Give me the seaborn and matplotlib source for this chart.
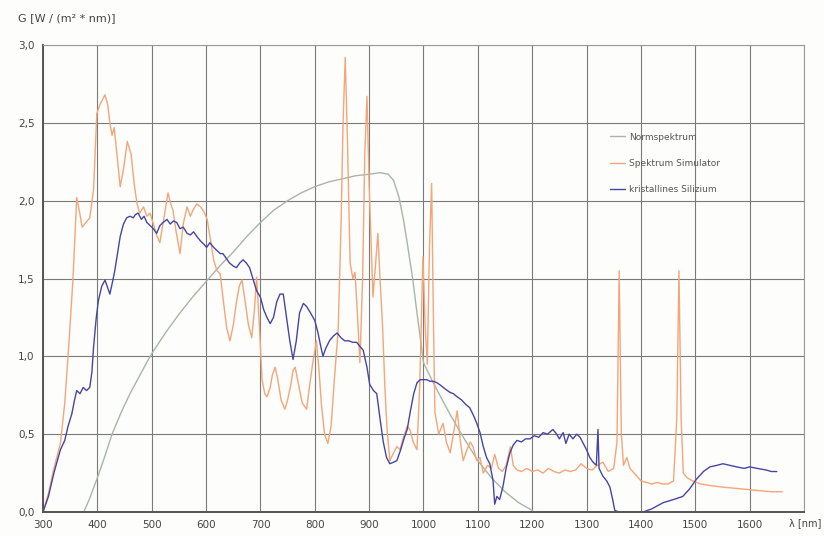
import numpy as np
import pandas as pd
import matplotlib
matplotlib.use("Agg")
import matplotlib.pyplot as plt
import seaborn as sns
from matplotlib.ticker import FuncFormatter

# ---------------- data ----------------
norm_wl = [375, 385, 400, 413, 427, 445, 460, 480, 497, 525, 550, 575, 600, 625, 650,
           675, 700, 725, 750, 775, 800, 825, 850, 875, 900, 920, 935, 945, 955, 963,
           970, 980, 988, 1000, 1015, 1030, 1050, 1075, 1100, 1125, 1150, 1175, 1200]
norm_g = [0.0, 0.08, 0.22, 0.35, 0.5, 0.65, 0.76, 0.89, 1.0, 1.15, 1.27, 1.38, 1.48, 1.58, 1.67,
          1.77, 1.86, 1.94, 2.0, 2.05, 2.09, 2.12, 2.14, 2.16, 2.17, 2.18, 2.17, 2.13, 2.02, 1.88,
          1.73, 1.5, 1.28, 0.96, 0.85, 0.75, 0.62, 0.47, 0.33, 0.22, 0.13, 0.06, 0.01]

sim_wl = [300, 310, 320, 332, 340, 348, 355, 362, 366, 372, 379, 386, 393, 399, 405, 414, 419,
          423, 427, 431, 436, 442, 448, 455, 462, 468, 473, 478, 485, 491, 497, 503, 509, 515,
          522, 530, 535, 539, 545, 552, 558, 565, 571, 576, 583, 590, 596, 602, 608, 614, 620,
          626, 632, 638, 644, 650, 656, 661, 666, 672, 678, 684, 689, 693, 698, 703, 708, 712,
          718, 722, 727, 732, 738, 745, 750, 756, 760, 764, 770, 777, 785, 790, 796, 803, 808,
          812, 818, 824, 830, 836, 843, 848, 852, 856, 860, 865, 870, 874, 878, 883, 888, 892,
          896, 900, 904, 907, 912, 916, 920, 925, 929, 933, 938, 945, 951, 957, 963, 970, 975,
          981, 988, 993, 999, 1003, 1007, 1011, 1015, 1018, 1021, 1028, 1036, 1042, 1049, 1055,
          1062, 1068, 1073, 1080, 1086, 1091, 1098, 1104, 1110, 1118, 1125, 1131, 1138, 1145,
          1152, 1160, 1165, 1172, 1180, 1190, 1200, 1210, 1220, 1230, 1240, 1250, 1260, 1270,
          1280, 1290, 1300, 1310, 1320, 1330, 1340, 1350, 1356, 1360, 1364, 1368, 1374, 1380,
          1390, 1400, 1410, 1420, 1430, 1440, 1450, 1460, 1466, 1470, 1474, 1478, 1485, 1495,
          1510, 1527, 1550, 1580, 1610, 1640, 1660]
sim_g = [0.0, 0.12, 0.28, 0.44, 0.7, 1.1, 1.49, 2.02, 1.95, 1.83, 1.86, 1.89, 2.07, 2.56, 2.62,
         2.68, 2.62, 2.5, 2.42, 2.47, 2.3, 2.09, 2.2, 2.38, 2.3, 2.1, 1.98, 1.92, 1.96, 1.9, 1.92,
         1.85, 1.78, 1.73, 1.88, 2.05, 1.98, 1.94, 1.8, 1.66, 1.85, 1.96, 1.9, 1.94, 1.98, 1.96,
         1.93, 1.88, 1.75, 1.62, 1.55, 1.53, 1.35, 1.18, 1.1, 1.2, 1.35, 1.45, 1.49, 1.35, 1.2,
         1.12, 1.3, 1.51, 1.2, 0.85, 0.76, 0.74, 0.8, 0.88, 0.93, 0.85, 0.72, 0.66, 0.72, 0.82,
         0.91, 0.93, 0.82, 0.7, 0.66, 0.8, 0.95, 1.1, 0.9, 0.7, 0.5, 0.44, 0.55, 0.85, 1.17, 1.8,
         2.5, 2.92, 2.4, 1.6, 1.5, 1.54, 1.3, 0.96, 1.5, 2.3, 2.67, 2.1, 1.7, 1.38, 1.6, 1.79,
         1.5, 1.17, 0.8, 0.53, 0.33, 0.38, 0.42, 0.4, 0.48, 0.55, 0.53, 0.45, 0.4, 0.8, 1.64,
         1.2, 0.95, 1.7, 2.11, 1.3, 0.64, 0.5, 0.57, 0.45, 0.38, 0.5, 0.65, 0.45, 0.33, 0.4,
         0.45, 0.42, 0.33, 0.35, 0.25, 0.3, 0.28, 0.37, 0.28, 0.26, 0.3, 0.42, 0.3, 0.27, 0.26,
         0.28, 0.26, 0.27, 0.25, 0.28, 0.26, 0.25, 0.27, 0.26, 0.27, 0.31, 0.28, 0.27, 0.3, 0.32,
         0.26, 0.28, 0.45, 1.55, 0.5, 0.3, 0.35, 0.28, 0.24, 0.2, 0.19, 0.18, 0.19, 0.18, 0.18,
         0.2, 0.6, 1.55, 0.6, 0.25, 0.22, 0.2, 0.18, 0.17, 0.16, 0.15, 0.14, 0.13, 0.13]

si_wl = [300, 310, 320, 332, 340, 346, 353, 358, 362, 368, 374, 380, 386, 390, 393, 398, 402,
         408, 414, 419, 423, 428, 432, 437, 442, 448, 454, 460, 466, 470, 475, 481, 486, 491,
         497, 503, 509, 515, 521, 528, 534, 540, 546, 552, 558, 565, 571, 577, 583, 590, 596,
         601, 607, 614, 620, 626, 631, 637, 643, 650, 656, 662, 668, 674, 680, 686, 693, 700,
         706, 712, 718, 724, 730, 736, 742, 748, 754, 760, 766, 772, 779, 785, 792, 800, 806,
         810, 815, 820, 827, 834, 841, 848, 855, 862, 870, 877, 884, 889, 896, 901, 908, 914,
         920, 926, 932, 938, 945, 951, 958, 964, 970, 976, 982, 988, 994, 999, 1006, 1012, 1018,
         1025, 1033, 1040, 1048, 1055, 1062, 1070, 1078, 1085, 1092, 1098, 1104, 1110, 1116,
         1122, 1128, 1131, 1135, 1140, 1146, 1152, 1159, 1165, 1172, 1180, 1188, 1196, 1204,
         1212, 1220, 1228, 1238, 1245, 1250, 1257, 1262, 1268, 1275, 1282, 1288, 1294, 1300,
         1306, 1312, 1318, 1321, 1323, 1330, 1337, 1343, 1348, 1352, 1360, 1380, 1404, 1420,
         1441, 1460, 1477, 1490, 1502, 1515, 1527, 1540, 1551, 1563, 1576, 1590, 1600, 1614,
         1630, 1640, 1650]
si_g = [0.0, 0.1, 0.25, 0.4, 0.46, 0.55, 0.63, 0.72, 0.78, 0.76, 0.8, 0.78, 0.8, 0.9, 1.06,
        1.25, 1.36, 1.45, 1.49, 1.44, 1.4, 1.48, 1.55, 1.66, 1.77, 1.85, 1.89, 1.9, 1.89, 1.91,
        1.92, 1.88, 1.9, 1.86, 1.84, 1.82, 1.79, 1.84, 1.86, 1.88, 1.85, 1.87, 1.86, 1.82, 1.83,
        1.79, 1.78, 1.8, 1.77, 1.74, 1.72, 1.7, 1.73, 1.7, 1.68, 1.66, 1.66, 1.63, 1.6, 1.58,
        1.57, 1.6, 1.62, 1.6, 1.57, 1.5, 1.42, 1.38, 1.3, 1.25, 1.21, 1.25, 1.35, 1.4, 1.4, 1.25,
        1.1, 0.98, 1.1, 1.28, 1.34, 1.32, 1.28, 1.23, 1.15, 1.08, 1.0, 1.05, 1.1, 1.13, 1.15,
        1.12, 1.1, 1.1, 1.09, 1.09, 1.06, 1.04, 0.93, 0.82, 0.78, 0.76, 0.6, 0.45, 0.35, 0.31,
        0.32, 0.33, 0.4, 0.47, 0.53, 0.65, 0.76, 0.83, 0.85, 0.85, 0.85, 0.84, 0.84, 0.83, 0.81,
        0.79, 0.77, 0.76, 0.74, 0.72, 0.69, 0.67, 0.62, 0.57, 0.51, 0.42, 0.35, 0.31, 0.2, 0.05,
        0.1, 0.08, 0.16, 0.28, 0.38, 0.43, 0.46, 0.45, 0.47, 0.47, 0.49, 0.48, 0.51, 0.5, 0.53,
        0.5, 0.47, 0.51, 0.44, 0.5, 0.47, 0.5, 0.48, 0.44, 0.4, 0.35, 0.32, 0.3, 0.53, 0.28,
        0.23, 0.2, 0.16, 0.08, 0.01, 0.0, 0.0, 0.0, 0.02, 0.06, 0.08, 0.1, 0.15, 0.21, 0.26,
        0.29, 0.3, 0.31, 0.3, 0.29, 0.28, 0.29, 0.28, 0.27, 0.26, 0.26]

series_names = ["Normspektrum", "Spektrum Simulator", "kristallines Silizium"]
x_ticks = [300, 400, 500, 600, 700, 800, 900, 1000, 1100, 1200, 1300, 1400, 1500, 1600]
y_ticks = [0.0, 0.5, 1.0, 1.5, 2.0, 2.5, 3.0]

df = pd.concat([
    pd.DataFrame({"wl": norm_wl, "G": norm_g, "series": series_names[0]}),
    pd.DataFrame({"wl": sim_wl, "G": sim_g, "series": series_names[1]}),
    pd.DataFrame({"wl": si_wl, "G": si_g, "series": series_names[2]}),
], ignore_index=True)

# ---------------- plot ----------------
sns.set_theme(style="white")
plt.rcParams["font.family"] = ["DejaVu Sans"]

fig = plt.figure(figsize=(8.24, 5.36), dpi=100, facecolor="#fdfdfb")
ax = fig.add_axes([0.0522, 0.0448, 0.9235, 0.8712])
ax.set_facecolor("#fdfdfb")

palette = {series_names[0]: "#a7b6a8",
           series_names[1]: "#f2a679",
           series_names[2]: "#4646a2"}

sns.lineplot(data=df, x="wl", y="G", hue="series", palette=palette,
             hue_order=series_names, estimator=None, sort=False,
             linewidth=1.0, ax=ax, legend=True)

ax.set_xlim(300, 1700)
ax.set_ylim(0, 3.0)
ax.set_xticks(x_ticks + [1700])
ax.set_yticks(y_ticks)
ax.xaxis.set_major_formatter(FuncFormatter(lambda v, p: "" if v >= 1700 else f"{int(v)}"))
ax.yaxis.set_major_formatter(FuncFormatter(lambda v, p: f"{v:.1f}".replace(".", ",")))
ax.grid(True, color="#7a7a7a", linewidth=0.8)
ax.set_axisbelow(True)
for side in ["top", "right"]:
    ax.spines[side].set_color("#9a9a9a")
    ax.spines[side].set_linewidth(0.8)
for side in ["left", "bottom"]:
    ax.spines[side].set_color("#555555")
    ax.spines[side].set_linewidth(1.4)
ax.tick_params(axis="both", which="major", length=3, width=0.8, color="#555555",
               labelsize=7.5, labelcolor="#444444", direction="out", pad=3)
ax.set_xlabel("")
ax.set_ylabel("")

fig.text(0.997, 0.024, "λ [nm]", fontsize=7, color="#444444", ha="right", va="center")
fig.text(0.022, 0.966, "G [W / (m² * nm)]", fontsize=8, color="#444444",
         ha="left", va="center")

leg = ax.legend(loc="upper left", bbox_to_anchor=(0.735, 0.83), frameon=False,
                fontsize=6.5, handlelength=1.6, labelspacing=1.9, handletextpad=0.5)
for t in leg.get_texts():
    t.set_color("#555555")

fig.savefig("out.png", dpi=100, facecolor=fig.get_facecolor())
